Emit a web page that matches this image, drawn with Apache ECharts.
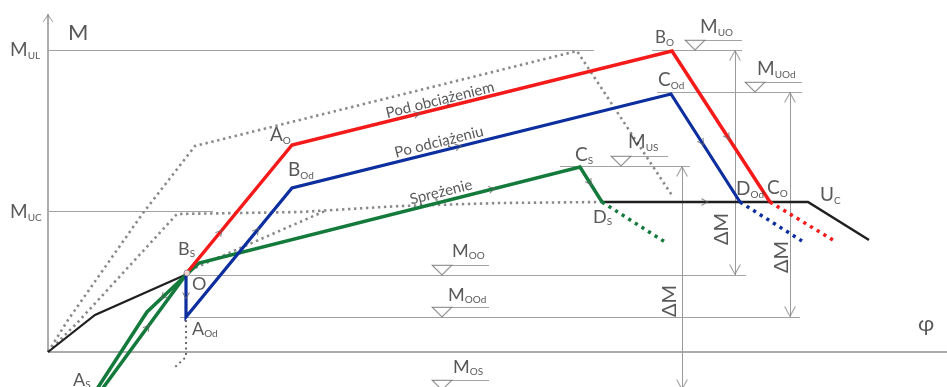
<!DOCTYPE html>
<html><head><meta charset="utf-8">
<script src="https://cdn.jsdelivr.net/npm/echarts@6/dist/echarts.min.js"></script>
<style>html,body{margin:0;padding:0;background:#fff}#c{width:947px;height:387px}</style>
</head><body><div id="c"></div>
<script>
// Values in chart units (φ horizontal, M vertical)
const blackLoad    = [[0,0],[47,37],[137,77]];
const blackPlateau = [[554,150],[760,150],[821,112]];
const redSolid     = [[137,77],[244,207],[624,301],[722,150]];
const redTail      = [[722,150],[785,112]];
const blueSolid    = [[138,77],[138,35],[244,164],[623,258],[692,150]];
const blueTail     = [[692,150],[754,111]];
const greenSolid   = [[137,76],[151,89],[532,185],[554,150]];
const greenTail    = [[554,150],[617,110]];
const greenLoad    = [[47,-40],[99,40],[137,76]];
const greenUnload  = [[52,-40],[137,76]];
const envOuter     = [[0,0],[20,32],[55,82],[95,139],[147,206],[529,301],[625,155]];
const envInner     = [[0,0],[30,30],[85,90],[129,138],[252,140],[352,146],[452,149],[554,150]];
const envBranch    = [[142,82],[277,141]];
const dropLine     = [[138,32],[138,-5],[126,-16]];
const axisPhi      = [[0,0],[899,0]];
const axisM        = [[0,0],[0,338]];
const pointO       = [139,79];

// reference levels: [M, φ from, φ to]
const levelLines = [[302,0,546],[141,0,165],[77,142,698],[35,132,752],[302,604,694],[260,609,754],[186,512,642]];
// level markers (triangle apex): [M, φ]
const levelMarks = [[302,647],[260,707],[186,573],[77,394],[35,394],[-38,394]];
// ΔM dimension lines: [φ, M top, M bottom]
const dims = [[687,302,77],[742,260,35],[634,186,-38]];

// text labels: [main, subscript, φ, M, size]
const labels = [
  ['M','',20,319,22],['M','UL',-38,302,19],['M','UC',-38,140,19],
  ['B','S',130,103,18],['O','',144,68,18],['A','Od',144,23,18],['A','S',25,-28,18],
  ['A','O',222,217,19],['B','Od',240,182,19],['C','S',527,197,19],['M','US',580,210,19],
  ['D','S',545,135,18],['B','O',607,314,17],['M','UO',652,325,19],['C','Od',610,272,19],
  ['M','UOd',709,283,19],['D','Od',688,163,19],['C','O',719,164,19],['U','C',772,157,19],
  ['φ','',870,28,22],['M','OO',404,101,18],['M','OOd',400,57,18],['M','OS',405,-15,18]
];
const lineTexts = [['Pod obciążeniem',392,252],['Po odciążeniu',391,210],['Sprężenie',393,160]];
const deltaTexts = [['ΔM',674,123],['ΔM',734,95],['ΔM',622,51]];

// direction chevrons on curves: [curve, segment, fraction, reversed]
const curves = {red:redSolid, blue:blueSolid, green:greenSolid, black:blackPlateau, gLoad:greenLoad, gUnload:greenUnload};
const flowArrows = [['red',0,0.33,0],['blue',1,0.67,0],['red',1,0.33,0],['blue',2,0.44,0],['green',1,0.77,0],
  ['green',2,0.45,0],['red',2,0.57,0],['blue',3,0.45,0],['black',0,0.5,0],['blue',0,0.5,0],['gLoad',1,0.42,1],['gUnload',0,0.56,0]];

const COL = {red:'#f41a1a', blue:'#0c2e9e', green:'#137a3c', black:'#1f1f1f', dot:'#8a8a8a', ref:'#a3a3a3', text:'#2e2e2e'};
const FONT = 'Lato, "Open Sans", sans-serif';
const CHEV_R = 'path://M0,0 L10,5 L0,10 L0,8.4 L7.6,5 L0,1.6 Z';
const CHEV_U = 'path://M0,10 L6,0 L12,10 L10.7,10 L6,2.2 L1.3,10 Z';
const TRI = 'path://M0,0 L20,0 L10,10 Z';

function lineS(data, color, width, dash, z){
  return {type:'line', data, symbol:'none', showSymbol:false, silent:true, z:z||2,
    lineStyle:{color, width, type: dash||'solid', cap:'butt', join:'miter'}};
}
function linesS(coordsList, color, width, z){
  return {type:'lines', coordinateSystem:'cartesian2d', silent:true, z:z||1,
    lineStyle:{color, width, opacity:1}, data: coordsList.map(c=>({coords:c}))};
}

const refCoords = levelLines.map(l=>[[l[1],l[0]],[l[2],l[0]]]);
const underCoords = levelMarks.map(m=>[[m[1]-10,m[0]+10],[m[1]+47,m[0]+10]]);
const dimCoords = dims.map(d=>[[d[0],d[1]],[d[0],d[2]]]);

const arrowHeads = [];
dims.forEach(d=>{ arrowHeads.push({value:[d[0],d[1]], symbolRotate:0, symbolOffset:[0,5]});
                  arrowHeads.push({value:[d[0],d[2]], symbolRotate:180, symbolOffset:[0,-5]}); });
arrowHeads.push({value:axisM[1], symbolRotate:0, symbolOffset:[0,4], symbolSize:[11,8]});

const flowData = flowArrows.map(([k,s,t,r])=>{
  const p=curves[k][s], q=curves[k][s+1];
  const x=p[0]+(q[0]-p[0])*t, y=p[1]+(q[1]-p[1])*t;
  let a=Math.atan2(q[1]-p[1], q[0]-p[0])*180/Math.PI; if(r) a+=180;
  return {value:[x,y], symbolRotate:a};
});

const labelData = labels.map(([m,s,x,y,size])=>({
  value:[x,y],
  label:{show:true, position:[0,0], align:'left', verticalAlign:'middle',
    formatter: s ? '{a|'+m+'}{b|'+s+'}' : '{a|'+m+'}',
    rich:{a:{fontSize:size, lineHeight:size+2, color:COL.text, fontFamily:FONT},
          b:{fontSize:10, lineHeight:7, verticalAlign:'bottom', color:COL.text, fontFamily:FONT}}}
}));
const lineTextData = lineTexts.map(([t,x,y])=>({value:[x,y], label:{show:true, position:[0,0], align:'center', verticalAlign:'middle',
  rotate:14, formatter:t, fontSize:15, color:COL.text, fontFamily:FONT}}));
const deltaData = deltaTexts.map(([t,x,y])=>({value:[x,y], label:{show:true, position:[0,0], align:'center', verticalAlign:'middle',
  rotate:90, formatter:t, fontSize:20, color:COL.text, fontFamily:FONT}}));

const option = {
  animation:false,
  backgroundColor:'#ffffff',
  grid:{left:0,right:0,top:0,bottom:0},
  xAxis:{type:'value', min:-48, max:899, show:false},
  yAxis:{type:'value', min:-35, max:352, show:false},
  series:[
    linesS([axisPhi, axisM], '#8f8f8f', 1.5, 1),
    linesS(refCoords.concat(underCoords), COL.ref, 1, 1),
    linesS(dimCoords, '#9a9a9a', 1, 1),
    lineS(envOuter, COL.dot, 2.6, [2.4,3.6], 2),
    lineS(envInner, COL.dot, 2.6, [2.4,3.6], 2),
    lineS(envBranch, COL.dot, 2.6, [2.4,3.6], 2),
    lineS(dropLine, '#6a6a6a', 2, [2,3.5], 2),
    lineS(blackLoad, COL.black, 2.2, null, 3),
    lineS(blackPlateau, COL.black, 2.5, null, 3),
    lineS(greenLoad, COL.green, 3.5, null, 4),
    lineS(greenUnload, COL.green, 3.5, null, 4),
    lineS(greenSolid, COL.green, 3.5, null, 4),
    lineS(greenTail, COL.green, 3.5, [3.2,4.6], 4),
    lineS(blueSolid, COL.blue, 3.2, null, 5),
    lineS(blueTail, COL.blue, 3.5, [3.2,4.6], 5),
    lineS(redSolid, COL.red, 3.5, null, 6),
    lineS(redTail, COL.red, 3.5, [3.2,4.6], 6),
    {type:'scatter', clip:false, silent:true, z:7, data:[pointO], symbol:'circle', symbolSize:6,
      itemStyle:{color:'#ffffff', borderColor:'#777', borderWidth:1}},
    {type:'scatter', clip:false, silent:true, z:7, data:arrowHeads, symbol:CHEV_U, symbolSize:[12,11],
      itemStyle:{color:'#8f8f8f'}},
    {type:'scatter', clip:false, silent:true, z:7, data:levelMarks.map(m=>[m[1],m[0]]), symbol:TRI, symbolSize:[20,10],
      symbolOffset:[0,-5], itemStyle:{color:'rgba(0,0,0,0)', borderColor:'#777', borderWidth:1}},
    {type:'scatter', clip:false, silent:true, z:8, data:flowData, symbol:CHEV_R, symbolSize:[7,8],
      itemStyle:{color:'#666'}},
    {type:'scatter', clip:false, silent:true, z:9, data:labelData, symbol:'circle', symbolSize:0},
    {type:'scatter', clip:false, silent:true, z:9, data:lineTextData, symbol:'circle', symbolSize:0},
    {type:'scatter', clip:false, silent:true, z:9, data:deltaData, symbol:'circle', symbolSize:0}
  ]
};
echarts.init(document.getElementById('c'), null, {renderer:'canvas'}).setOption(option);
</script></body></html>
